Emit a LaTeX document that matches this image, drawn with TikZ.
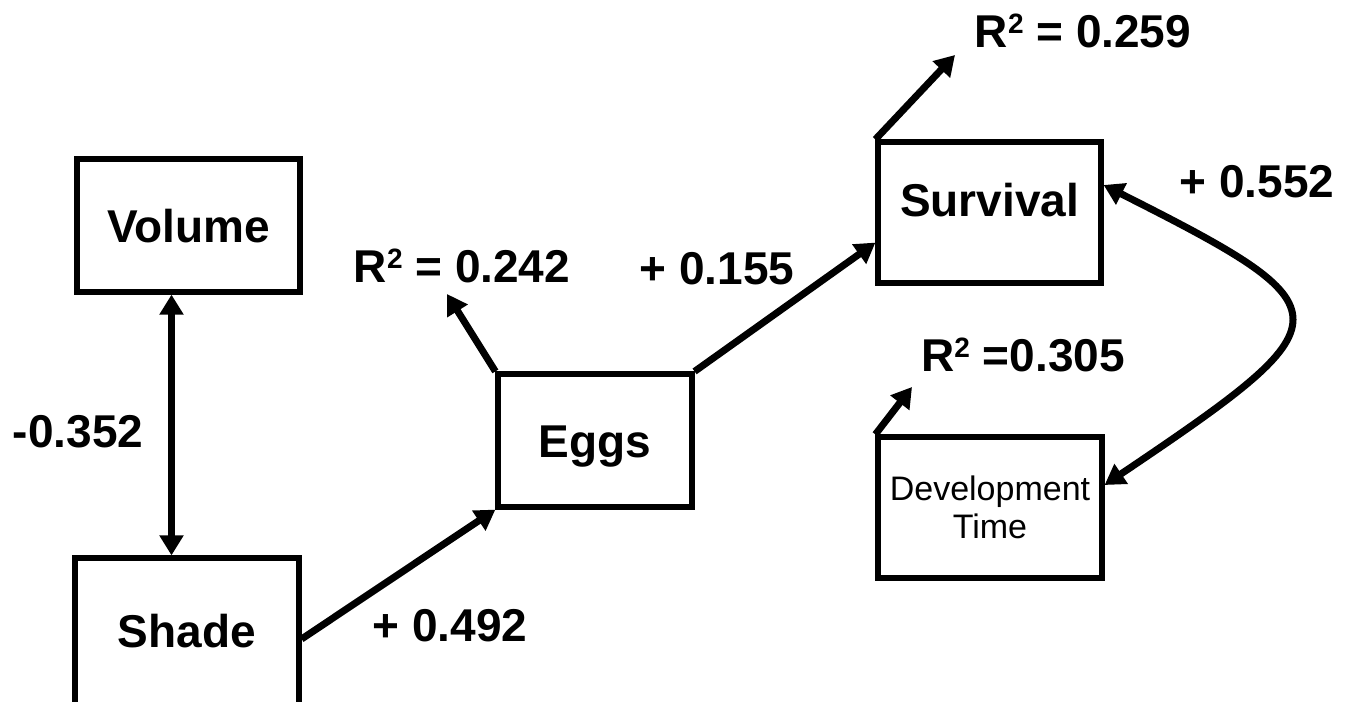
\documentclass[tikz,border=0pt]{standalone}
\usepackage{fontspec}
\setmainfont{Liberation Sans}
\usetikzlibrary{arrows.meta, calc}

\newcommand{\rsqr}{R\raisebox{7pt}{\fontsize{14}{14}\selectfont 2}}

\begin{document}
\begin{tikzpicture}[
  x=0.5pt,
  y=-0.5pt,
  >={Triangle[length=10pt, width=11.5pt]},
  box/.style={draw, line width=2.6pt, inner sep=0pt, font=\fontsize{23}{27}\selectfont\bfseries, text height=16.5pt, text depth=0pt},
  link/.style={line width=3.5pt, ->},
  twoway/.style={line width=3.5pt, <->},
  coef/.style={font=\fontsize{23}{27}\selectfont\bfseries, anchor=base, inner sep=0pt}
  ]
    \useasboundingbox (0,0) rectangle (1357,702);

    % boxes
    \node[box, minimum width=111.5pt, minimum height=66.5pt] (volume) at (188.5,225.5) {Volume};
    \node[box, minimum width=112pt, minimum height=77pt, text depth=4.5pt] (shade) at (187,635) {Shade};
    \node[box, minimum width=97pt, minimum height=66.5pt] (eggs) at (595,440.5) {Eggs};
    \node[box, minimum width=111.5pt, minimum height=70.5pt, text depth=13pt] (survival) at (989.5,212.5) {Survival};
    \node[box, minimum width=112pt, minimum height=70.5pt, align=center, font=\fontsize{17}{19}\selectfont, text height=, text depth=] (devtime) at (990,507.5) {Development\\Time};

    % free ends of the R^2 arrows
    \coordinate (reggs) at (447,294);
    \coordinate (rsurv) at (955,55);
    \coordinate (rdev) at (912,387);

    % paths
    \draw[twoway] ([xshift=-8.5pt]volume.south) -- (shade.north -| 171.5,0);
    \draw[link] ([yshift=-2pt]shade.east) -- (eggs.south west);
    \draw[link] (eggs.north east) -- ([yshift=21.5pt]survival.south west);
    \draw[link] (eggs.north west) -- (reggs);
    \draw[link] (survival.north west) -- (rsurv);
    \draw[link] (devtime.north west) -- (rdev);
    \draw[twoway] ([yshift=13.75pt]survival.east) .. controls +(248,125) and +(245,-165) .. ([yshift=11.25pt]devtime.east);

    % coefficients
    \node[coef] (cvs) at (78,447) {-0.352};
    \node[coef] (cse) at (450,641) {+ 0.492};
    \node[coef] (ces) at (717,284) {+ 0.155};
    \node[coef] (csd) at (1257,197) {+ 0.552};
    \node[coef] (req) at (462,282) {\rsqr{} = 0.242};
    \node[coef] (rsq) at (1083,47) {\rsqr{} = 0.259};
    \node[coef] (rdq) at (1023,371) {\rsqr{} =0.305};

\end{tikzpicture}
\end{document}
